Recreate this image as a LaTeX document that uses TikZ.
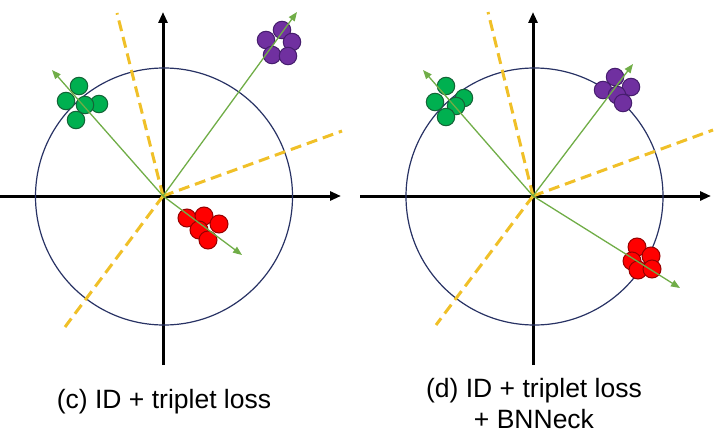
\documentclass[tikz,border=0pt]{standalone}
\usepackage{fontspec}
\setmainfont{Liberation Sans}
\usetikzlibrary{arrows.meta}
\definecolor{gfill}{RGB}{0,176,80}
\definecolor{gline}{RGB}{20,100,55}
\definecolor{pfill}{RGB}{112,48,160}
\definecolor{pline}{RGB}{70,30,110}
\definecolor{rfill}{RGB}{255,0,0}
\definecolor{rline}{RGB}{150,0,0}
\definecolor{ringc}{RGB}{40,50,100}
\definecolor{vecc}{RGB}{112,173,71}
\definecolor{yel}{RGB}{240,192,40}
\tikzset{
  axis/.style={line width=3pt,-{Triangle[length=11pt,width=9pt]}},
  ring/.style={draw=ringc,line width=1.2pt},
  vec/.style={draw=vecc,line width=1.3pt,-{Triangle[length=9pt,width=7pt]}},
  sep/.style={draw=yel,line width=3pt,dash pattern=on 11pt off 6pt},
  dotg/.style={circle,draw=gline,fill=gfill,line width=1pt,minimum size=17.5pt,inner sep=0pt},
  dotp/.style={circle,draw=pline,fill=pfill,line width=1pt,minimum size=17.5pt,inner sep=0pt},
  dotr/.style={circle,draw=rline,fill=rfill,line width=1pt,minimum size=18pt,inner sep=0pt},
  captext/.style={font=\fontsize{26.5}{31}\selectfont,anchor=base}
}
\begin{document}
\begin{tikzpicture}[x=1pt,y=-1pt]
\useasboundingbox (0,0) rectangle (719,441);
% ---------- left panel ----------
\coordinate (oc) at (163,196);
\coordinate (cxl) at (0,196);
\coordinate (cxr) at (341,196);
\coordinate (cyb) at (163,365);
\coordinate (cyt) at (163,12);
\draw[axis] (cxl) -- (cxr);
\draw[axis] (cyb) -- (cyt);
\draw[ring] (164,196.5) circle[radius=128.5];
\coordinate (cy1) at (117,13);
\coordinate (cy2) at (342,131);
\coordinate (cy3) at (65,327);
\draw[sep] (oc) -- (cy1);
\draw[sep] (oc) -- (cy2);
\draw[sep] (oc) -- (cy3);
\node[dotg] (cg1) at (79,86) {};
\node[dotg] (cg2) at (66,101) {};
\node[dotg] (cg3) at (99,104) {};
\node[dotg] (cg4) at (85,105) {};
\node[dotg] (cg5) at (76,120) {};
\node[dotp] (cp1) at (282,30) {};
\node[dotp] (cp2) at (266,40) {};
\node[dotp] (cp3) at (292,42) {};
\node[dotp] (cp4) at (272,55) {};
\node[dotp] (cp5) at (288,56) {};
\node[dotr] (cr1) at (187,218) {};
\node[dotr] (cr2) at (204,216) {};
\node[dotr] (cr3) at (219,224) {};
\node[dotr] (cr4) at (199,230) {};
\node[dotr] (cr5) at (208,240) {};
\coordinate (cvg) at (52,70);
\coordinate (cvp) at (297,12);
\coordinate (cvr) at (242,255);
\draw[vec] (oc) -- (cvg);
\draw[vec] (oc) -- (cvp);
\draw[vec] (oc) -- (cvr);
\node[captext] (labc) at (164,408) {(c) ID + triplet loss};
% ---------- right panel ----------
\coordinate (od) at (533,196);
\coordinate (dxl) at (360,196);
\coordinate (dxr) at (711,196);
\coordinate (dyb) at (533,365);
\coordinate (dyt) at (533,12);
\draw[axis] (dxl) -- (dxr);
\draw[axis] (dyb) -- (dyt);
\draw[ring] (534.5,196.5) circle[radius=128.5];
\coordinate (dy1) at (488,12);
\coordinate (dy2) at (713,130);
\coordinate (dy3) at (436,325);
\draw[sep] (od) -- (dy1);
\draw[sep] (od) -- (dy2);
\draw[sep] (od) -- (dy3);
\node[dotg] (dg1) at (446,86) {};
\node[dotg] (dg2) at (435,102) {};
\node[dotg] (dg3) at (464,98) {};
\node[dotg] (dg4) at (456,106) {};
\node[dotg] (dg5) at (446,117) {};
\node[dotp] (dp1) at (615,77) {};
\node[dotp] (dp2) at (603,90) {};
\node[dotp] (dp3) at (631,87) {};
\node[dotp] (dp4) at (617,95) {};
\node[dotp] (dp5) at (623,103) {};
\node[dotr] (dr1) at (637,247) {};
\node[dotr] (dr2) at (651,256) {};
\node[dotr] (dr3) at (632,261) {};
\node[dotr] (dr4) at (638,270) {};
\node[dotr] (dr5) at (652,269) {};
\coordinate (dvg) at (423,70);
\coordinate (dvp) at (633,64);
\coordinate (dvr) at (680,288);
\draw[vec] (od) -- (dvg);
\draw[vec] (od) -- (dvp);
\draw[vec] (od) -- (dvr);
\node[captext] (labd1) at (534,397) {(d) ID + triplet loss};
\node[captext] (labd2) at (534,428) {+ BNNeck};
\end{tikzpicture}
\end{document}
